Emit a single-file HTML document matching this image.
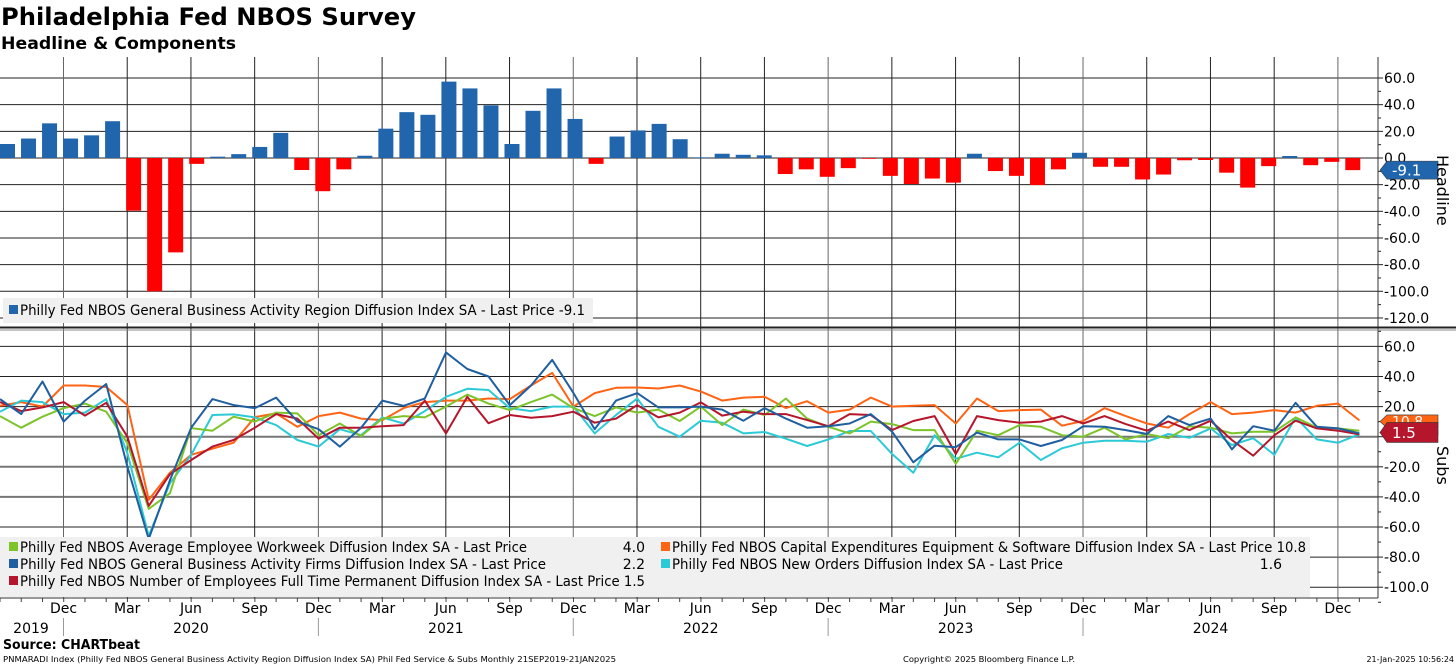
<!DOCTYPE html>
<html><head><meta charset="utf-8"><style>
html,body{margin:0;padding:0;background:#fff;width:1456px;height:665px;overflow:hidden}
svg{display:block;font-family:"DejaVu Sans","Liberation Sans",sans-serif}
</style></head><body>
<svg id="chart" width="1456" height="665" viewBox="0 0 1456 665" xmlns="http://www.w3.org/2000/svg">
<text x="1" y="25" font-size="24" font-weight="bold" textLength="415" lengthAdjust="spacingAndGlyphs">Philadelphia Fed NBOS Survey</text>
<text x="1" y="49" font-size="17" font-weight="bold" textLength="235" lengthAdjust="spacingAndGlyphs">Headline &amp; Components</text>
<g id="grid"></g>
<g id="bars"></g>
<defs><clipPath id="clipB"><rect x="0" y="330" width="1378" height="268"/></clipPath></defs>
<g id="lines" clip-path="url(#clipB)"></g>
<g id="axes"></g>
<rect x="3" y="298" width="590" height="25" fill="#f0f0f0"/>
<rect x="9" y="305" width="9" height="9" fill="#2166ac"/>
<text x="20" y="315" font-size="14" textLength="565" lengthAdjust="spacingAndGlyphs">Philly Fed NBOS General Business Activity Region Diffusion Index SA - Last Price -9.1</text>
<rect x="0" y="537" width="1310" height="60" fill="#f0f0f0"/>
<rect x="9" y="542" width="9" height="9" fill="#7cc42a"/>
<text x="20" y="552" font-size="14" textLength="507" lengthAdjust="spacingAndGlyphs">Philly Fed NBOS Average Employee Workweek Diffusion Index SA - Last Price</text>
<text x="645" y="552" font-size="14" text-anchor="end">4.0</text>
<rect x="9" y="559" width="9" height="9" fill="#1f5fa0"/>
<text x="20" y="569" font-size="14" textLength="526" lengthAdjust="spacingAndGlyphs">Philly Fed NBOS General Business Activity Firms Diffusion Index SA - Last Price</text>
<text x="645" y="569" font-size="14" text-anchor="end">2.2</text>
<rect x="9" y="576" width="9" height="9" fill="#b5162b"/>
<text x="20" y="586" font-size="14" textLength="625" lengthAdjust="spacingAndGlyphs">Philly Fed NBOS Number of Employees Full Time Permanent Diffusion Index SA - Last Price 1.5</text>
<rect x="661" y="542" width="9" height="9" fill="#ff6414"/>
<text x="672" y="552" font-size="14" textLength="634" lengthAdjust="spacingAndGlyphs">Philly Fed NBOS Capital Expenditures Equipment &amp; Software Diffusion Index SA - Last Price 10.8</text>
<rect x="661" y="559" width="9" height="9" fill="#2ccad6"/>
<text x="672" y="569" font-size="14" textLength="391" lengthAdjust="spacingAndGlyphs">Philly Fed NBOS New Orders Diffusion Index SA - Last Price</text>
<text x="1282" y="569" font-size="14" text-anchor="end">1.6</text>
<text transform="translate(1437,155) rotate(90)" font-size="16">Headline</text>
<text transform="translate(1437,446) rotate(90)" font-size="16">Subs</text>
<text x="3" y="649" font-size="13" font-weight="bold" textLength="137" lengthAdjust="spacingAndGlyphs">Source: CHARTbeat</text>
<text x="3" y="662" font-size="8" textLength="613" lengthAdjust="spacingAndGlyphs">PNMARADI Index (Philly Fed NBOS General Business Activity Region Diffusion Index SA) Phil Fed Service &amp; Subs  Monthly 21SEP2019-21JAN2025</text>
<text x="903" y="662" font-size="8" textLength="172" lengthAdjust="spacingAndGlyphs">Copyright© 2025 Bloomberg Finance L.P.</text>
<text x="1454" y="662" font-size="8" text-anchor="end">21-Jan-2025 10:56:24</text>
</svg>
<script>
const headline=[10.5,14.6,26,14.6,17,27.6,-39.5,-100,-70.8,-4.4,1,2.9,8.3,18.8,-9,-24.9,-8.5,1.7,22,34.4,32.4,57.3,52.2,39.5,10.5,35.4,52.2,29.3,-4.4,16.1,20.7,25.6,14.1,0.5,3.2,2.4,2,-12,-8.5,-14.1,-7.6,-0.3,-13.4,-19.5,-15.4,-18.5,3.2,-9.8,-13.4,-20.3,-8.5,3.9,-6.6,-6.6,-16.1,-12.4,-1.7,-1.5,-11,-22.2,-6.1,1.5,-5.4,-2.9,-9.1];
const firms=[25,15,36.7,10,24,35,-20,-68,-29,6,25,21,19,26,10,5,-6.6,6,24,20.5,25.4,56,45,40,21,34,51,29,5,24,29,19.5,19.5,20,18,10.6,19,12,6,7,8.8,15,3.3,-17,-6,-7,2.7,-1.8,-1.8,-6.2,-2.2,7,6.6,4.4,1.8,13.7,7.7,12,-8.4,7,4,22.5,6.6,5.5,2.2];
const capex=[20.5,23,20,34,34,33,21,-42,-24,-12,-8,-4,13,15.5,6.6,13.7,16,12,11,19,23,24,24,25.4,25,34,42.4,20,29,32.5,32.7,32,34,30,24,26,26.5,19,23.6,16,18,26,20,20.5,21,8.8,25.4,17,17.7,18,7.3,10.4,19,13.7,8.8,6,15,23,15,16,17.7,16,20.5,22,10.8];
const employees=[23,17,19.5,23,14,22.5,0,-46,-25,-15.5,-6.6,-2.2,6,15,12,-1.3,6,6,7,7.7,24,2.2,26.5,9,14.4,12.6,13.7,16.6,9.3,12,21,12.8,16,22.8,14,16.6,15,15,11,7,15,14.4,4.4,10.4,13.7,-11.5,13.7,11,9.3,10,13.7,8.8,13.7,8.4,4,10,4.4,10.6,-2.2,-12.6,1,10.6,5.5,4,1.5];
const workweek=[13.7,6,13.3,19,22,16.6,-4.4,-48,-37.6,5.7,4,13.3,10,16,15.5,1,8.8,0.4,12,13.7,12.8,20,28,22,17.7,23,28,19,13.7,19.5,16,18,10.4,20,7.7,18,14.4,25.4,12,6.6,2.2,10,8.4,4.4,4.4,-18,4,1,7.7,6.6,1,0,6,-1.8,1.8,-1,7,6,2.2,3.3,3.3,12.8,6,5.5,4];
const newOrders=[16.6,24,23,15,16,25,-11,-66,-31,-12,14.4,14.8,12.8,7.7,-2.2,-6.6,5,1,12.8,8.8,17,26.5,31.8,31,19,17,20,20,2.2,14.4,25.4,6.6,0,10.6,9.3,2.2,3.1,-1.3,-6.2,-1.8,3.8,3.8,-11.5,-24,1,-14.6,-10.6,-13.7,-4,-15.5,-7.7,-4,-2.7,-2.7,-3.3,1.8,-0.7,5.5,-5.5,-1,-12,12.8,-1.8,-4,1.6];
const topTicks=[60,40,20,0,-20,-40,-60,-80,-100,-120];
const botTicks=[60,40,20,0,-20,-40,-60,-80,-100];
const monthLabels=["Dec","Mar","Jun","Sep","Dec","Mar","Jun","Sep","Dec","Mar","Jun","Sep","Dec","Mar","Jun","Sep","Dec","Mar","Jun","Sep","Dec"];
const yearLabels=["2019","2020","2021","2022","2023","2024"];

const NS="http://www.w3.org/2000/svg";
const PR=1378;
const yTop=v=>158-v*1.333;
const yBot=v=>436.7-v*1.505;
const xBar=i=>i*21.02;
const xLine=i=>i*21.24;
const xQ=k=>63.5+k*63.72;
function mk(tag,attrs,parent){const e=document.createElementNS(NS,tag);for(const k in attrs)e.setAttribute(k,attrs[k]);parent.appendChild(e);return e;}
const grid=document.getElementById('grid'),axes=document.getElementById('axes');
topTicks.forEach(t=>{
  const l=mk('line',{x1:0,x2:PR,y1:yTop(t),y2:yTop(t),stroke:'#222','stroke-width':1},grid);
  
  
  const tx=mk('text',{x:1384,y:yTop(t)+5,'font-size':14},axes);
  
  
  tx.textContent=t.toFixed(1);
  mk('line',{x1:PR,x2:PR+5,y1:yTop(t),y2:yTop(t),stroke:'#222'},axes);
  mk('line',{x1:PR,x2:PR+3,y1:yTop(t-10),y2:yTop(t-10),stroke:'#222'},axes);
});
botTicks.forEach(t=>{
  const g=(t===0||t===-20||t===-40);
  const l=mk('line',{x1:0,x2:PR,y1:yBot(t),y2:yBot(t),stroke:g?'#777':'#222','stroke-width':g?2:1},grid);
  
  
  const tx=mk('text',{x:1384,y:yBot(t)+5,'font-size':14},axes);
  
  
  tx.textContent=t.toFixed(1);
  mk('line',{x1:PR,x2:PR+5,y1:yBot(t),y2:yBot(t),stroke:'#222'},axes);
  mk('line',{x1:PR,x2:PR+3,y1:yBot(t-10),y2:yBot(t-10),stroke:'#222'},axes);
});
monthLabels.forEach((m,k)=>{
  const x=xQ(k);
  mk('line',{x1:x,x2:x,y1:57,y2:598,stroke:(k%4===0)?'#666':'#222','stroke-width':1},grid);
  const tx=mk('text',{x:x,y:613,'font-size':14,'text-anchor':'middle'},axes);
  
  
  tx.textContent=m;
});
for(let i=0;i<65;i++){mk('line',{x1:xLine(i),x2:xLine(i),y1:598,y2:602,stroke:'#444'},axes);}
yearLabels.forEach((y,k)=>{
  const x=k===0?31:xQ((k-1)*4)+127.5;
  const tx=mk('text',{x:x,y:633,'font-size':14,'text-anchor':'middle'},axes);
  
  
  tx.textContent=y;
  if(k<5){mk('line',{x1:xQ(k*4),x2:xQ(k*4),y1:618,y2:636,stroke:'#999'},axes);}
});
mk('line',{x1:PR,x2:PR,y1:57,y2:598,stroke:'#333'},axes);
mk('line',{x1:0,x2:PR,y1:598,y2:598,stroke:'#333'},axes);
mk('line',{x1:0,x2:1456,y1:327.5,y2:327.5,stroke:'#222','stroke-width':2},axes);
mk('line',{x1:0,x2:1456,y1:330,y2:330,stroke:'#888','stroke-width':1},axes);
const bars=document.getElementById('bars');
headline.forEach((v,i)=>{
  const y0=yTop(0),y1=yTop(v);
  const r=mk('rect',{x:xBar(i),y:Math.min(y0,y1),width:15,height:Math.max(0.8,Math.abs(y1-y0)),fill:v>=0?'#2166ac':'#ff0000'},bars);
  
  
});
const lines=document.getElementById('lines');
[[capex,'#ff6414','capex-line'],[newOrders,'#2ccad6','new-orders-line'],[workweek,'#7cc42a','workweek-line'],[employees,'#b5162b','employees-line'],[firms,'#1f5fa0','firms-line']].forEach(([d,c,n])=>{
  const p=mk('polyline',{points:d.map((v,i)=>xLine(i).toFixed(1)+','+yBot(v).toFixed(1)).join(' '),fill:'none',stroke:c,'stroke-width':2,'stroke-linejoin':'round'},lines);
  
  
});
function tag(yc,h,col,txt,name,fs){
  const g=mk('g',{},axes);
  
  
  mk('polygon',{points:`1380,${yc} 1387,${yc-h/2} 1438,${yc-h/2} 1438,${yc+h/2} 1387,${yc+h/2}`,fill:col,stroke:'#333','stroke-width':0.6},g);
  if(txt){const t=mk('text',{x:1392,y:yc+fs*0.36,'font-size':fs,fill:'#fff'},g);t.textContent=txt;}
}
tag(yTop(headline[64]),18,'#2166ac','-9.1','headline-last-tag',15);
tag(yBot(capex[64])+1,13,'#ff6414','10.8','capex-last-tag',14);
tag(yBot(workweek[64])+2,5,'#7cc42a','','workweek-last-tag',10);
tag(yBot(employees[64])-2,20,'#b5162b','1.5','employees-last-tag',15);
</script>
</body></html>
